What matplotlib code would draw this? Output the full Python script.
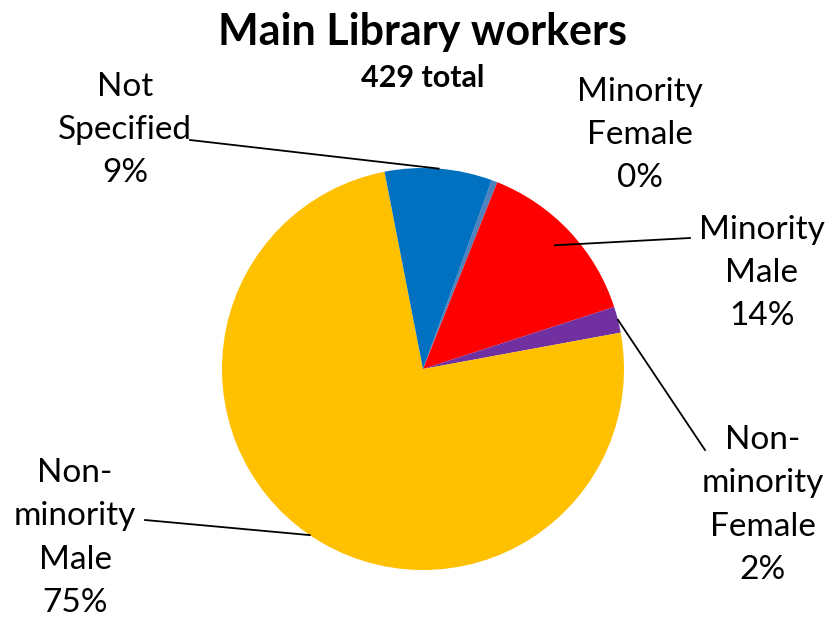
import numpy as np
import matplotlib.pyplot as plt

plt.rcParams['font.family'] = ['Lato', 'DejaVu Sans']

# data
categories = ['Minority\nFemale', 'Minority\nMale', 'Non-\nminority\nFemale',
              'Non-\nminority\nMale', 'Not\nSpecified']
counts = [2, 60, 9, 321, 37]
colors = ['#4F81BD', '#FF0000', '#7030A0', '#FFC000', '#0070C0']
total = sum(counts)

# label layout in pixels (text centre, leader start or None)
W, H = 831, 623
cx, cy, R = 423, 369, 201
text_pos = [(640, 135), (762, 273), (763, 505), (75, 538), (125, 130)]
leader_start = [None, (690, 238), (705, 450), (145, 520), (190, 140)]
leader_r = [1.0, 0.9, 1.0, 1.0, 1.0]

def px2d(p):
    return ((p[0] - cx) / R, (cy - p[1]) / R)

fig = plt.figure(figsize=(W / 100, H / 100), dpi=100)
ax = fig.add_axes([0, 0, 1, 1])

wedges, _ = ax.pie(counts, colors=colors, startangle=70, counterclock=False,
                   radius=1.0, wedgeprops=dict(linewidth=0))

ax.set_xlim(-cx / R, (W - cx) / R)
ax.set_ylim(-(H - cy) / R, cy / R)
ax.set_aspect('equal')
ax.axis('off')

for i, w in enumerate(wedges):
    pct = 100 * counts[i] / total
    label = '%s\n%d%%' % (categories[i], round(pct))
    tx, ty = px2d(text_pos[i])
    ax.text(tx, ty, label, ha='center', va='center', fontsize=24,
            linespacing=1.55, color='black')
    if leader_start[i] is not None:
        mid = np.deg2rad((w.theta1 + w.theta2) / 2)
        r = leader_r[i]
        ex, ey = r * np.cos(mid), r * np.sin(mid)
        sx, sy = px2d(leader_start[i])
        ax.plot([sx, ex], [sy, ey], color='black', linewidth=1.3)

fig.text(423 / W, 1 - 32 / H, 'Main Library workers', ha='center', va='center',
         fontsize=31, fontweight='bold')
fig.text(423 / W, 1 - 78 / H, '%d total' % total, ha='center', va='center',
         fontsize=22, fontweight='bold')

fig.savefig('out.png', dpi=100)
